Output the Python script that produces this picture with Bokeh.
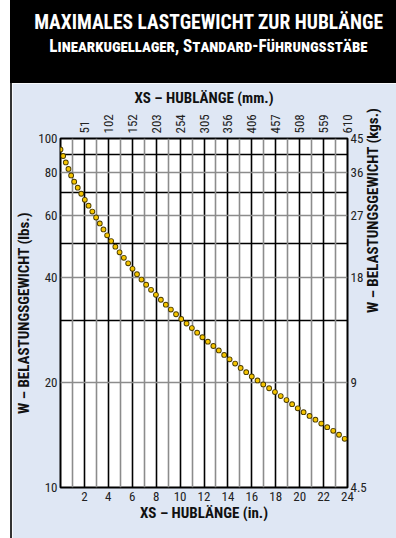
import math
from bokeh.plotting import figure
from bokeh.models import (Div, FixedTicker, Grid, LinearAxis, LogAxis, NumeralTickFormatter,
                          Spacer)
from bokeh.layouts import column, row
from bokeh.embed import file_html
from bokeh.resources import INLINE

# ---- data ----
stroke_in = [0, 1, 2, 3, 4, 5, 6, 7, 8, 9, 10, 11, 12, 13, 14, 15, 16, 17, 18, 19, 20, 21, 22, 23, 24]
load_lbs = [93.0, 76.7, 67.0, 59.2, 52.1, 46.9, 42.4, 38.6, 35.6, 32.9, 30.6, 28.6, 26.7,
            25.1, 23.5, 22.1, 20.8, 19.7, 18.7, 17.7, 16.7, 15.9, 15.1, 14.4, 13.6]

inch_ticks = [2, 4, 6, 8, 10, 12, 14, 16, 18, 20, 22, 24]
mm_labels = ["51", "102", "152", "203", "254", "305", "356", "406", "457", "508", "559", "610"]
lbs_ticks = [10, 20, 40, 60, 80, 100]
kg_labels = ["4.5", "9", "18", "27", "36", "45"]

grid_x_major = [2, 4, 6, 8, 10, 12, 14, 16, 18, 20, 22]
grid_x_minor = [1, 3, 5, 7, 9, 11, 13, 15, 17, 19, 21, 23]
grid_y_major = [30, 50, 70, 90]
grid_y_minor = [20, 40, 60, 80]

FONT = "'Roboto Condensed', 'DejaVu Sans Condensed', sans-serif"
BG = "#dfe7f4"

title_html = (
    '<div style="width:386px;height:83px;background:#000;color:#fff;'
    "font-family:'Roboto Condensed', 'DejaVu Sans Condensed', sans-serif;font-weight:bold;"
    'text-align:center;box-sizing:border-box;padding-left:11px;padding-top:9px;white-space:nowrap;">'
    '<div style="font-size:21px;line-height:26px;">'
    '<span style="display:inline-block;transform:scaleX(0.93);">MAXIMALES LASTGEWICHT ZUR HUBLÄNGE</span></div>'
    '<div style="font-size:18px;line-height:22px;font-variant:small-caps;">'
    '<span style="display:inline-block;transform:scaleX(0.95);">Linearkugellager, Standard-Führungsstäbe</span>'
    '</div></div>'
)
title = Div(text=title_html, width=386, height=83, margin=0)
edge = Div(text="", width=2, height=455, margin=0, styles={"background-color": "#333"})

p = figure(width=384, height=455, x_range=(0, 24), y_range=(10, 100), y_axis_type="log",
           output_backend="svg", toolbar_location=None,
           min_border_left=43, min_border_right=49, min_border_top=55, min_border_bottom=51,
           background_fill_color="white", border_fill_color=BG,
           outline_line_color="black", outline_line_width=2, margin=0)

# grids
p.xgrid.ticker = FixedTicker(ticks=grid_x_major)
p.xgrid.grid_line_color = "black"
p.xgrid.grid_line_width = 1.6
p.ygrid.ticker = FixedTicker(ticks=grid_y_major)
p.ygrid.grid_line_color = "black"
p.ygrid.grid_line_width = 1.6
p.add_layout(Grid(dimension=0, ticker=FixedTicker(ticks=grid_x_minor),
                  grid_line_color="#8c8c8c", grid_line_width=1.6))
p.add_layout(Grid(dimension=1, ticker=FixedTicker(ticks=grid_y_minor),
                  grid_line_color="#8c8c8c", grid_line_width=1.6))


def style_axis(ax, label, standoff=4, label_standoff=4):
    ax.axis_label = label
    ax.axis_line_color = None
    ax.major_tick_line_color = None
    ax.minor_tick_line_color = None
    ax.major_tick_out = 0
    ax.major_tick_in = 0
    ax.minor_tick_out = 0
    ax.minor_tick_in = 0
    ax.major_label_text_font = FONT
    ax.major_label_text_font_size = "13px"
    ax.major_label_text_color = "#222"
    ax.major_label_standoff = standoff
    ax.axis_label_text_font = FONT
    ax.axis_label_text_font_style = "bold"
    ax.axis_label_text_font_size = "15px"
    ax.axis_label_text_color = "#111"
    ax.axis_label_standoff = label_standoff


# bottom axis (inches)
xb = p.xaxis[0]
xb.ticker = FixedTicker(ticks=inch_ticks)
style_axis(xb, "XS – HUBLÄNGE (in.)", 4, 0)

# left axis (lbs)
yl = p.yaxis[0]
yl.ticker = FixedTicker(ticks=lbs_ticks)
yl.formatter = NumeralTickFormatter(format="0")
style_axis(yl, "W – BELASTUNGSGEWICHT (lbs.)", 3, 2)

# top axis (mm)
xt = LinearAxis(ticker=FixedTicker(ticks=inch_ticks),
                major_label_overrides={t: s for t, s in zip(inch_ticks, mm_labels)},
                major_label_orientation=math.pi / 2)
style_axis(xt, "XS – HUBLÄNGE (mm.)", 5, 4)
p.add_layout(xt, "above")

# right axis (kg), title reading bottom-to-top like the left one
yr = LogAxis(ticker=FixedTicker(ticks=lbs_ticks),
             major_label_overrides={t: s for t, s in zip(lbs_ticks, kg_labels)})
style_axis(yr, "W – BELASTUNGSGEWICHT (kgs.)", 3, 3)
if "axis_label_orientation" in yr.properties():
    yr.axis_label_orientation = math.pi / 2
yr.axis_label_text_align = "center"
yr.axis_label_text_baseline = "middle"
p.add_layout(yr, "right")

# dotted curve: dark outline dots under yellow dots
p.line(stroke_in, load_lbs, line_color="#4a3b00", line_width=5.8, line_dash="0 7", line_cap="round")
p.line(stroke_in, load_lbs, line_color="#f5c400", line_width=4.0, line_dash="0 7", line_cap="round")

layout = row(Spacer(width=10, height=538, margin=0),
             column(title, row(edge, p, spacing=0), spacing=0),
             spacing=0)
open("out.html", "w").write(file_html(layout, INLINE))
